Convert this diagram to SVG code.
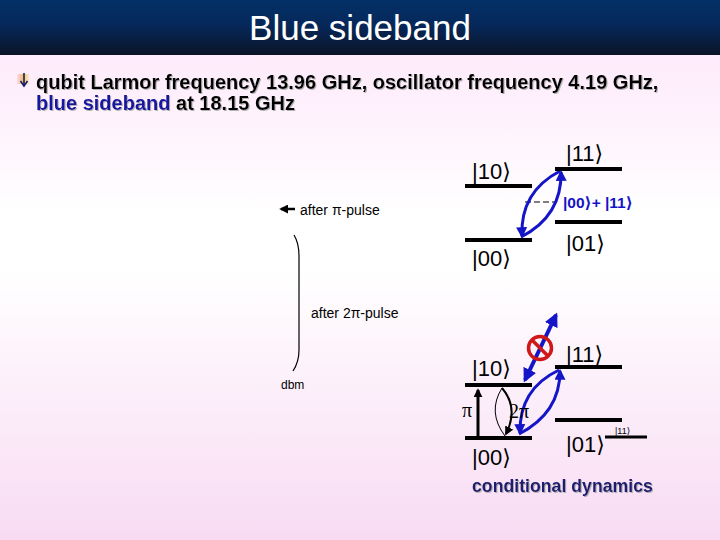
<svg xmlns="http://www.w3.org/2000/svg" width="720" height="540" viewBox="0 0 720 540">
<defs>
<linearGradient id="hdr" x1="0" y1="0" x2="0" y2="1">
<stop offset="0" stop-color="#033168"/><stop offset="0.45" stop-color="#06285a"/><stop offset="1" stop-color="#0a1427"/>
</linearGradient>
<linearGradient id="bg" x1="0" y1="0" x2="0" y2="1">
<stop offset="0" stop-color="#fde3f9"/><stop offset="0.4" stop-color="#ffffff"/><stop offset="0.5" stop-color="#ffffff"/><stop offset="1" stop-color="#f8dbf3"/>
</linearGradient>
<linearGradient id="bul" x1="0" y1="0" x2="1" y2="0">
<stop offset="0" stop-color="#f0a0a0" stop-opacity="0.2"/><stop offset="0.5" stop-color="#f0c060"/><stop offset="1" stop-color="#f0d060" stop-opacity="0.3"/>
</linearGradient>
<filter id="sh" x="-5%" y="-20%" width="110%" height="140%">
<feDropShadow dx="1" dy="1" stdDeviation="0.4" flood-color="#a0a0a0" flood-opacity="0.8"/>
</filter>
<marker id="bh" viewBox="0 0 10 10" refX="8" refY="5" markerWidth="11" markerHeight="11" markerUnits="userSpaceOnUse" orient="auto-start-reverse">
<path d="M0,0 L10,5 L0,10 z" fill="#1414c8"/>
</marker>
<marker id="bh2" viewBox="0 0 10 10" refX="8" refY="5" markerWidth="14" markerHeight="14" markerUnits="userSpaceOnUse" orient="auto-start-reverse">
<path d="M0,0 L10,5 L0,10 z" fill="#1414c8"/>
</marker>
<marker id="kh" viewBox="0 0 10 10" refX="8" refY="5" markerWidth="9" markerHeight="9" markerUnits="userSpaceOnUse" orient="auto-start-reverse">
<path d="M0,0 L10,5 L0,10 z" fill="#000"/>
</marker>
<style>
.lvl{stroke:#000;stroke-width:4;}
.st{font-family:"Liberation Sans","DejaVu Sans",sans-serif;font-size:22px;fill:#000;}
.sm{font-family:"Liberation Sans","DejaVu Sans",sans-serif;font-size:14px;fill:#000;}
.blu{fill:none;stroke:#1414c8;stroke-width:3;}
</style>
</defs>
<rect x="0" y="0" width="720" height="540" fill="url(#bg)"/>
<rect x="0" y="0" width="720" height="55" fill="url(#hdr)"/>
<text x="360" y="40" text-anchor="middle" font-family="Liberation Sans, sans-serif" font-size="35" fill="#fff">Blue sideband</text>

<g id="bullet">
<rect x="17" y="74" width="12" height="10" fill="url(#bul)"/>
<line x1="24" y1="73" x2="24" y2="85" stroke="#1a1a60" stroke-width="1.6"/>
<path d="M20.5,81 L24,86 L27.5,81" fill="none" stroke="#1a1a60" stroke-width="1.6"/>
<g filter="url(#sh)" font-family="Liberation Sans, Arial, sans-serif" font-weight="bold" font-size="20">
<text x="36" y="89" fill="#000">qubit Larmor frequency 13.96 GHz, oscillator frequency 4.19 GHz,</text>
<text x="36" y="110" fill="#000"><tspan fill="#1414a0">blue sideband</tspan> at 18.15 GHz</text>
</g>
</g>

<g id="connectors">
<line x1="295" y1="209" x2="281" y2="209" stroke="#000" stroke-width="2.5" marker-end="url(#kh)"/>
<path d="M294,235 Q299,243 299,256 L299,350 Q299,362 293,371" fill="none" stroke="#000" stroke-width="1.2"/>
<line x1="525" y1="202" x2="557" y2="202" stroke="#000" stroke-width="1" stroke-dasharray="6 3"/>
<path class="blu" d="M560,171 Q520,192 522,236" marker-end="url(#bh)"/>
<path class="blu" d="M521,237 Q562,216 561,172" marker-end="url(#bh)"/>
<path class="blu" d="M559,370 Q519,389 520,433" marker-end="url(#bh)"/>
<path class="blu" d="M519,434 Q560,413 560,371" marker-end="url(#bh)"/>
<line x1="525" y1="380" x2="556" y2="315" stroke="#1414c8" stroke-width="4" marker-start="url(#bh2)" marker-end="url(#bh2)"/>
<line x1="478" y1="437" x2="478" y2="390" stroke="#000" stroke-width="3" marker-end="url(#kh)"/>
<path d="M502,388 Q487,412 505,436" fill="none" stroke="#000" stroke-width="1"/>
<path d="M502,388 Q519,408 506,434" fill="none" stroke="#000" stroke-width="2" marker-end="url(#kh)"/>
</g>

<g id="after-pi">
<text class="sm" x="300" y="215">after π-pulse</text>
</g>
<g id="after-2pi">
<text class="sm" x="311" y="318">after 2π-pulse</text>
</g>
<g id="dbm">
<text x="281" y="389" font-family="Liberation Sans, sans-serif" font-size="12" fill="#000">dbm</text>
</g>

<g id="top-10"><line class="lvl" x1="465" y1="186" x2="532" y2="186"/><text class="st" x="472" y="179">|10⟩</text></g>
<g id="top-11"><line class="lvl" x1="555" y1="169" x2="622" y2="169"/><text class="st" x="566" y="161">|11⟩</text></g>
<g id="top-01"><line class="lvl" x1="555" y1="222" x2="622" y2="222"/><text class="st" x="566" y="251">|01⟩</text></g>
<g id="top-00"><line class="lvl" x1="465" y1="240" x2="532" y2="240"/><text class="st" x="472" y="266">|00⟩</text></g>
<g id="superpos"><text x="563" y="208" font-family="Liberation Sans, DejaVu Sans, sans-serif" font-weight="bold" font-size="15.5" fill="#1414c8">|00⟩+ |11⟩</text></g>

<g id="bot-10"><line class="lvl" x1="465" y1="385" x2="532" y2="385"/><text class="st" x="472" y="376">|10⟩</text></g>
<g id="bot-11"><line class="lvl" x1="555" y1="367" x2="622" y2="367"/><text class="st" x="566" y="362">|11⟩</text></g>
<g id="bot-01"><line class="lvl" x1="555" y1="420" x2="622" y2="420"/><text class="st" x="566" y="452">|01⟩</text></g>
<g id="bot-00"><line class="lvl" x1="465" y1="438" x2="532" y2="438"/><text class="st" x="472" y="465">|00⟩</text></g>
<g id="small-11"><line x1="605" y1="437" x2="647" y2="437" stroke="#000" stroke-width="3"/><text x="615" y="434" font-family="Liberation Sans, DejaVu Sans, sans-serif" font-size="9" fill="#000">|11⟩</text></g>
<g id="pi"><text x="462" y="417" font-family="Liberation Serif, serif" font-size="20" fill="#000">π</text></g>
<g id="twopi"><text x="509" y="418" font-family="Liberation Serif, serif" font-size="20" fill="#000">2π</text></g>
<g id="forbidden">
<circle cx="540" cy="348" r="11.5" fill="none" stroke="#d01818" stroke-width="3.5"/>
<line x1="532" y1="340" x2="548" y2="356" stroke="#d01818" stroke-width="3.5"/>
</g>
<g id="caption"><text x="472" y="492" filter="url(#sh)" font-family="Liberation Sans, Arial, sans-serif" font-weight="bold" font-size="17.7" fill="#1c1c70">conditional dynamics</text></g>
</svg>
